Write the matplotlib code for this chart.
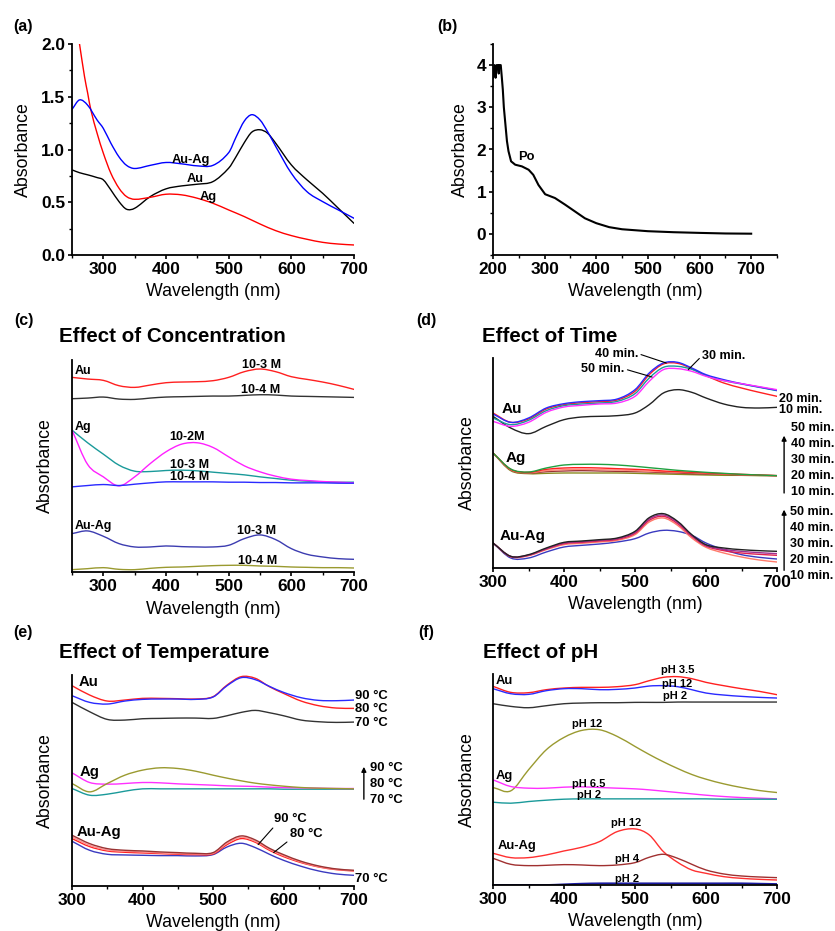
import matplotlib
matplotlib.use("Agg")
import matplotlib.pyplot as plt
from matplotlib.ticker import MultipleLocator
from matplotlib.path import Path
from matplotlib.patches import PathPatch

plt.rcParams['font.family'] = ['Liberation Sans', 'DejaVu Sans']

# ---------------- data ----------------
# (a) absorbance spectra
wl_a = [250, 262, 275, 290, 300, 312, 325, 337, 350, 375, 400, 425, 450, 475,
        500, 512, 525, 537, 550, 562, 575, 600, 625, 650, 675, 700]
a_auag = [1.38, 1.47, 1.42, 1.28, 1.20, 1.06, 0.93, 0.85, 0.82, 0.85, 0.877, 0.864, 0.845, 0.85,
          0.97, 1.12, 1.27, 1.33, 1.28, 1.17, 1.03, 0.775, 0.60, 0.506, 0.427, 0.348]
a_au = [0.807, 0.78, 0.76, 0.734, 0.712, 0.617, 0.506, 0.434, 0.443, 0.554, 0.627, 0.655, 0.671, 0.696,
        0.823, 0.934, 1.066, 1.165, 1.187, 1.155, 1.06, 0.854, 0.712, 0.585, 0.443, 0.30]
wl_a_ag = [262, 270, 275, 280, 290, 300, 312, 325, 337, 350, 375, 400, 425, 450, 475,
           500, 525, 550, 575, 600, 625, 650, 675, 700]
a_ag = [2.0, 1.69, 1.535, 1.377, 1.155, 0.965, 0.775, 0.633, 0.554, 0.528, 0.547, 0.576, 0.57, 0.538,
        0.49, 0.427, 0.364, 0.294, 0.231, 0.184, 0.149, 0.12, 0.104, 0.095]

# (b) Po extract
wl_b = [200, 203, 205, 207, 210, 211, 212, 215, 217, 219, 221, 224, 227, 230, 235, 243, 256,
        269, 278, 288, 301, 320, 340, 359, 378, 400, 425, 450, 475, 500, 550, 600, 650, 700]
b_po = [3.70, 4.00, 3.70, 4.00, 4.00, 3.80, 4.00, 4.00, 3.72, 3.42, 3.00, 2.60, 2.20, 1.96, 1.72, 1.64, 1.60,
        1.52, 1.40, 1.16, 0.94, 0.85, 0.69, 0.53, 0.37, 0.254, 0.16, 0.11, 0.087, 0.064, 0.04, 0.024, 0.01, 0.005]

# (c) effect of concentration (arbitrary units, stacked)
wl_c = [250, 275, 300, 325, 350, 375, 400, 425, 450, 475, 500, 525, 550, 575, 600, 625, 650, 675, 700]
c_au_1e3 = [583, 578, 574, 558, 553, 560, 567, 569, 570, 573, 583, 600, 608, 600, 585, 577, 569, 559, 547]
c_au_1e4 = [519, 521, 524, 518, 517, 521, 524, 525, 526, 527, 527, 529, 531, 530, 527, 526, 525, 524, 523]
c_ag_1e3 = [425, 387, 353, 320, 302, 301, 304, 305, 303, 299, 295, 291, 285, 280, 275, 272, 270, 269, 269]
c_ag_1e2 = [425, 322, 285, 258, 285, 325, 360, 383, 387, 373, 345, 318, 300, 287, 278, 274, 271, 269, 267]
c_ag_1e4 = [255, 259, 262, 259, 263, 267, 270, 270, 270, 270, 269, 269, 268, 268, 267, 267, 267, 266, 266]
c_auag_1e3 = [115, 123, 107, 85, 75, 75, 78, 76, 75, 75, 80, 100, 111, 97, 70, 53, 45, 40, 38]
c_auag_1e4 = [7, 10, 13, 8, 7, 11, 14, 15, 17, 19, 20, 20, 18, 17, 15, 14, 13, 13, 12]

# common grid for (d), (e), (f)
wl_g = [300, 325, 350, 375, 400, 425, 450, 475, 500, 520, 540, 560, 580, 600, 625, 650, 675, 700]

# (d) effect of time
time_labels = ["10 min.", "20 min.", "30 min.", "40 min.", "50 min."]
d_au = [
    [455, 420, 403, 425, 445, 453, 455, 457, 465, 490, 525, 535, 527, 510, 492, 482, 480, 482],
    [465, 437, 447, 477, 490, 496, 499, 504, 530, 580, 612, 614, 598, 577, 555, 540, 527, 515],
    [450, 430, 443, 472, 487, 492, 495, 500, 523, 570, 602, 605, 596, 577, 562, 552, 542, 532],
    [462, 437, 450, 480, 493, 499, 502, 507, 535, 585, 615, 617, 600, 580, 565, 553, 543, 533],
    [440, 425, 437, 467, 483, 488, 492, 495, 515, 560, 595, 598, 590, 575, 562, 553, 544, 535],
]
d_ag = [
    [345, 292, 283, 284, 285, 285, 285, 285, 284, 283, 282, 281, 280, 279, 278, 278, 277, 277],
    [345, 294, 285, 289, 291, 292, 291, 290, 289, 288, 286, 285, 283, 282, 281, 279, 278, 277],
    [345, 295, 286, 292, 295, 296, 295, 294, 292, 290, 289, 287, 286, 284, 282, 280, 279, 277],
    [345, 296, 287, 296, 300, 301, 300, 298, 296, 294, 291, 289, 287, 285, 283, 281, 279, 277],
    [345, 297, 288, 300, 309, 311, 311, 309, 305, 301, 297, 293, 290, 287, 284, 281, 279, 277],
]
d_auag = [
    [75, 30, 30, 48, 63, 68, 72, 78, 88, 105, 113, 110, 98, 75, 55, 40, 32, 27],
    [75, 34, 37, 55, 70, 74, 78, 83, 100, 138, 150, 128, 90, 62, 45, 33, 24, 18],
    [75, 34, 38, 57, 73, 77, 81, 86, 104, 143, 155, 133, 95, 66, 52, 45, 41, 38],
    [75, 35, 39, 58, 75, 79, 83, 88, 107, 147, 159, 137, 98, 68, 56, 50, 46, 43],
    [75, 35, 40, 60, 77, 81, 85, 90, 110, 151, 163, 140, 100, 70, 60, 55, 52, 50],
]

# (e) effect of temperature
temp_labels = ["70 °C", "80 °C", "90 °C"]
e_au = [
    [550, 522, 499, 497, 501, 502, 503, 503, 502, 510, 520, 526, 519, 510, 497, 492, 490, 491],
    [600, 572, 554, 557, 562, 562, 561, 560, 567, 602, 627, 622, 597, 577, 554, 540, 533, 532],
    [570, 550, 545, 554, 559, 560, 560, 559, 566, 600, 624, 618, 598, 580, 564, 556, 555, 557],
]
e_ag = [
    [292, 272, 275, 284, 291, 291, 291, 291, 291, 291, 291, 291, 291, 290, 290, 290, 290, 290],
    [339, 310, 305, 307, 310, 309, 306, 304, 302, 300, 299, 298, 296, 295, 294, 293, 292, 292],
    [307, 282, 307, 332, 347, 354, 352, 344, 332, 323, 315, 308, 303, 299, 295, 293, 292, 291],
]
e_auag = [
    [134, 107, 95, 93, 92, 91, 91, 90, 94, 117, 128, 115, 95, 77, 59, 45, 36, 32],
    [142, 118, 105, 101, 99, 97, 95, 94, 96, 124, 142, 131, 107, 88, 70, 57, 49, 45],
    [147, 122, 108, 104, 102, 99, 97, 96, 98, 128, 146, 134, 110, 91, 72, 58, 50, 46],
    [152, 127, 112, 107, 105, 102, 100, 98, 100, 132, 150, 138, 113, 94, 74, 60, 51, 47],
]

# (f) effect of pH
f_au_ph35 = [595, 577, 576, 585, 590, 592, 592, 594, 600, 612, 622, 624, 618, 607, 597, 588, 580, 570]
f_au_ph12 = [588, 573, 571, 582, 588, 588, 585, 586, 590, 596, 597, 594, 585, 575, 569, 565, 562, 560]
f_au_ph2 = [543, 535, 531, 537, 543, 545, 546, 546, 547, 547, 547, 548, 548, 548, 548, 548, 548, 548]
f_ag_ph12 = [292, 282, 345, 405, 442, 463, 465, 445, 415, 391, 369, 349, 331, 317, 303, 292, 283, 277]
f_ag_ph65 = [315, 295, 290, 290, 293, 294, 292, 290, 288, 285, 281, 277, 273, 269, 265, 262, 260, 258]
f_ag_ph2 = [248, 245, 250, 254, 257, 258, 258, 258, 258, 258, 258, 258, 258, 258, 257, 257, 257, 257]
f_auag_ph12 = [95, 82, 82, 90, 102, 113, 130, 160, 168, 150, 100, 68, 45, 35, 25, 20, 17, 15]
f_auag_ph4 = [80, 62, 58, 59, 61, 60, 58, 60, 67, 83, 92, 80, 62, 45, 33, 27, 24, 22]
f_auag_ph2 = [0, 0, 0, 0, 2, 4, 5, 5, 5, 5, 5, 5, 5, 5, 5, 5, 4, 3]

# ---------------- figure ----------------
W, H = 835, 931
fig = plt.figure(figsize=(W / 100, H / 100), dpi=100)


def add_axes(l, t, r, b):
    return fig.add_axes([l / W, 1 - b / H, (r - l) / W, (b - t) / H])


def curve(ax, x, y, color, lw=1.0):
    # smooth (Hermite/Bezier) connection through the read points
    n = len(x)
    m = []
    for i in range(n):
        a, b = max(i - 1, 0), min(i + 1, n - 1)
        m.append((y[b] - y[a]) / (x[b] - x[a]))
    verts = [(x[0], y[0])]
    codes = [Path.MOVETO]
    for i in range(n - 1):
        h = (x[i + 1] - x[i]) / 3
        verts += [(x[i] + h, y[i] + m[i] * h),
                  (x[i + 1] - h, y[i + 1] - m[i + 1] * h),
                  (x[i + 1], y[i + 1])]
        codes += [Path.CURVE4] * 3
    ax.add_patch(PathPatch(Path(verts, codes), fill=False, edgecolor=color,
                           lw=lw, capstyle='round', joinstyle='round'))


def style(ax, xlim, xmajor, ylim, yticks=None, yminor=None, ylab_x=-0.064):
    ax.set_xlim(*xlim)
    ax.set_ylim(*ylim)
    for s in ("top", "right"):
        ax.spines[s].set_visible(False)
    for s in ("left", "bottom"):
        ax.spines[s].set_linewidth(1.3)
    ax.set_xticks(xmajor)
    ax.xaxis.set_minor_locator(MultipleLocator(50))
    if yticks is None:
        ax.set_yticks([])
    else:
        ax.set_yticks(yticks)
        ax.yaxis.set_minor_locator(MultipleLocator(yminor))
    ax.tick_params(which='major', direction='out', length=3, width=1.2, labelsize=12.4, pad=2)
    ax.tick_params(which='minor', direction='out', length=2, width=1)
    for lab in ax.get_xticklabels() + ax.get_yticklabels():
        lab.set_fontweight('bold')
    ax.set_xlabel("Wavelength (nm)", fontsize=12.8)
    ax.set_ylabel("Absorbance", fontsize=12.8)
    ax.xaxis.set_label_coords(0.5, -0.135)
    ax.yaxis.set_label_coords(ylab_x, 0.5)


def lbl(ax, x, y, s, size=9, ha='center'):
    ax.text(x, y, s, fontsize=size, fontweight='bold', ha=ha, va='center')


def pointer(ax, s, xy, xytext, size=9, rel=(1, 0.5)):
    ax.annotate(s, xy=xy, xytext=xytext, fontsize=size, fontweight='bold',
                ha='center', va='center', annotation_clip=False,
                arrowprops=dict(arrowstyle='-', lw=0.8, color='black',
                                shrinkA=0, shrinkB=0, relpos=rel))


def up_arrow(ax, x, y0, y1):
    ax.annotate('', xy=(x, y1), xytext=(x, y0), annotation_clip=False,
                arrowprops=dict(arrowstyle='-|>', lw=1.0, color='black',
                                mutation_scale=7, shrinkA=0, shrinkB=0))


ax_a = add_axes(72, 44, 354, 255)
ax_b = add_axes(493, 44, 777, 255)
ax_c = add_axes(72, 360, 354, 572)
ax_d = add_axes(493, 358, 777, 568)
ax_e = add_axes(72, 675, 354, 886)
ax_f = add_axes(493, 674, 777, 885)

lw = 1.0

# (a)
curve(ax_a, wl_a, a_au, 'black', lw)
curve(ax_a, wl_a_ag, a_ag, '#ff0000', lw)
curve(ax_a, wl_a, a_auag, '#0000ff', lw)
style(ax_a, (250, 700), [300, 400, 500, 600, 700], (0, 2.0), [0, 0.5, 1.0, 1.5, 2.0], 0.25, ylab_x=-0.142)
lbl(ax_a, 440, 0.90, "Au-Ag", 9.3)
lbl(ax_a, 447, 0.72, "Au", 9.3)
lbl(ax_a, 468, 0.554, "Ag", 9.3)

# (b)
ax_b.plot(wl_b, b_po, color='black', lw=1.5)
style(ax_b, (200, 750), [200, 300, 400, 500, 600, 700], (-0.5, 4.5), [0, 1, 2, 3, 4], 0.5, ylab_x=-0.085)
lbl(ax_b, 265, 1.83, "Po", 9.3)

# (c)
curve(ax_c, wl_c, c_au_1e3, '#ff2020', lw)
curve(ax_c, wl_c, c_au_1e4, '#333333', lw)
curve(ax_c, wl_c, c_ag_1e3, '#1a9a9a', lw)
curve(ax_c, wl_c, c_ag_1e2, '#ff20ff', lw)
curve(ax_c, wl_c, c_ag_1e4, '#2a2aff', lw)
curve(ax_c, wl_c, c_auag_1e3, '#3c3cb0', lw)
curve(ax_c, wl_c, c_auag_1e4, '#9a9a30', lw)
style(ax_c, (250, 700), [300, 400, 500, 600, 700], (0, 635))
lbl(ax_c, 255, 602, "Au", ha='left')
lbl(ax_c, 552, 620, "10-3 M")
lbl(ax_c, 551, 545, "10-4 M")
lbl(ax_c, 255, 435, "Ag", ha='left')
lbl(ax_c, 434, 403, "10-2M")
lbl(ax_c, 437, 320, "10-3 M")
lbl(ax_c, 437, 285, "10-4 M")
lbl(ax_c, 255, 137, "Au-Ag", ha='left')
lbl(ax_c, 544, 123, "10-3 M")
lbl(ax_c, 547, 32, "10-4 M")

# (d)
au_cols = ['#222222', '#ff2020', '#1a9a9a', '#2a2aff', '#ff30ff']
ag_cols = ['#8a8a20', '#993333', '#ff8a7a', '#ff2020', '#20a040']
auag_cols = ['#3a3ac0', '#ff7a6a', '#e02050', '#a03090', '#222222']
for ys, c in zip(d_au, au_cols):
    curve(ax_d, wl_g, ys, c, lw)
for ys, c in zip(d_ag, ag_cols):
    curve(ax_d, wl_g, ys, c, lw)
for ys, c in zip(d_auag, auag_cols):
    curve(ax_d, wl_g, ys, c, lw)
style(ax_d, (300, 700), [300, 400, 500, 600, 700], (0, 630), ylab_x=-0.06)
lbl(ax_d, 312, 477, "Au", 11, ha='left')
lbl(ax_d, 318, 330, "Ag", 11, ha='left')
lbl(ax_d, 309, 95, "Au-Ag", 11, ha='left')
pointer(ax_d, time_labels[3], (544, 615), (474, 643))
pointer(ax_d, time_labels[4], (524, 573), (455, 597))
pointer(ax_d, time_labels[2], (575, 595), (625, 637), rel=(0, 0.5))
lbl(ax_d, 703, 508, time_labels[1], ha='left')
lbl(ax_d, 703, 473, time_labels[0], ha='left')
for i, s in enumerate(time_labels):
    lbl(ax_d, 720, 229 + 48 * i, s, ha='left')
    lbl(ax_d, 719, -23 + 47.5 * i, s, ha='left')
up_arrow(ax_d, 710, 225, 397)
up_arrow(ax_d, 710, -7, 175)

# (e)
for ys, c in zip(e_au, ['#333333', '#ff2020', '#2a2aff']):
    curve(ax_e, wl_g, ys, c, lw)
for ys, c in zip(e_ag, ['#1a9a9a', '#ff30ff', '#9a9a30']):
    curve(ax_e, wl_g, ys, c, lw)
for ys, c in zip(e_auag, ['#3a3ac0', '#ff2020', '#ff9090', '#993333']):
    curve(ax_e, wl_g, ys, c, lw)
style(ax_e, (300, 700), [300, 400, 500, 600, 700], (0, 632))
lbl(ax_e, 309, 612, "Au", 10.7, ha='left')
lbl(ax_e, 311, 340, "Ag", 10.7, ha='left')
lbl(ax_e, 306, 162, "Au-Ag", 10.7, ha='left')
lbl(ax_e, 702, 569, temp_labels[2], 9.4, ha='left')
lbl(ax_e, 702, 529, temp_labels[1], 9.4, ha='left')
lbl(ax_e, 702, 487, temp_labels[0], 9.4, ha='left')
for i, s in enumerate(temp_labels):
    lbl(ax_e, 723, 259 + 47.5 * i, s, 9.4, ha='left')
up_arrow(ax_e, 714, 260, 357)
pointer(ax_e, temp_labels[2], (564, 124), (610, 200), 9.4, rel=(0.1, 0.2))
pointer(ax_e, temp_labels[1], (586, 100), (632, 157), 9.4, rel=(0.1, 0.2))
lbl(ax_e, 702, 22, temp_labels[0], 9.4, ha='left')

# (f)
curve(ax_f, wl_g, f_au_ph35, '#ff2020', lw)
curve(ax_f, wl_g, f_au_ph12, '#2a2aff', lw)
curve(ax_f, wl_g, f_au_ph2, '#333333', lw)
curve(ax_f, wl_g, f_ag_ph12, '#9a9a30', lw)
curve(ax_f, wl_g, f_ag_ph65, '#ff30ff', lw)
curve(ax_f, wl_g, f_ag_ph2, '#1a9a9a', lw)
curve(ax_f, wl_g, f_auag_ph12, '#ff3030', lw)
curve(ax_f, wl_g, f_auag_ph4, '#a03030', lw)
curve(ax_f, wl_g, f_auag_ph2, '#1a1aa0', 1.3)
style(ax_f, (300, 700), [300, 400, 500, 600, 700], (0, 632), ylab_x=-0.06)
lbl(ax_f, 304, 610, "Au", 9.4, ha='left')
lbl(ax_f, 560, 643, "pH 3.5", 8)
lbl(ax_f, 559, 602, "pH 12", 8)
lbl(ax_f, 557, 565, "pH 2", 8)
lbl(ax_f, 432, 482, "pH 12", 8)
lbl(ax_f, 304, 327, "Ag", 9.4, ha='left')
lbl(ax_f, 435, 302, "pH 6.5", 8)
lbl(ax_f, 436, 270, "pH 2", 8)
lbl(ax_f, 306, 117, "Au-Ag", 9.4, ha='left')
lbl(ax_f, 488, 185, "pH 12", 8)
lbl(ax_f, 489, 78, "pH 4", 8)
lbl(ax_f, 489, 17, "pH 2", 8)

# panel letters and titles
for s, x, y in [("(a)", 13, 27), ("(b)", 437, 27), ("(c)", 14, 320),
                ("(d)", 416, 321), ("(e)", 13, 633), ("(f)", 418, 632)]:
    fig.text(x / W, 1 - y / H, s, fontsize=11.5, fontweight='bold', ha='left', va='center')
for s, x, y in [("Effect of Concentration", 59, 337), ("Effect of Time", 482, 336),
                ("Effect of Temperature", 59, 653), ("Effect of pH", 483, 652)]:
    fig.text(x / W, 1 - y / H, s, fontsize=14.8, fontweight='bold', ha='left', va='center')

fig.savefig("out.png", dpi=100)
